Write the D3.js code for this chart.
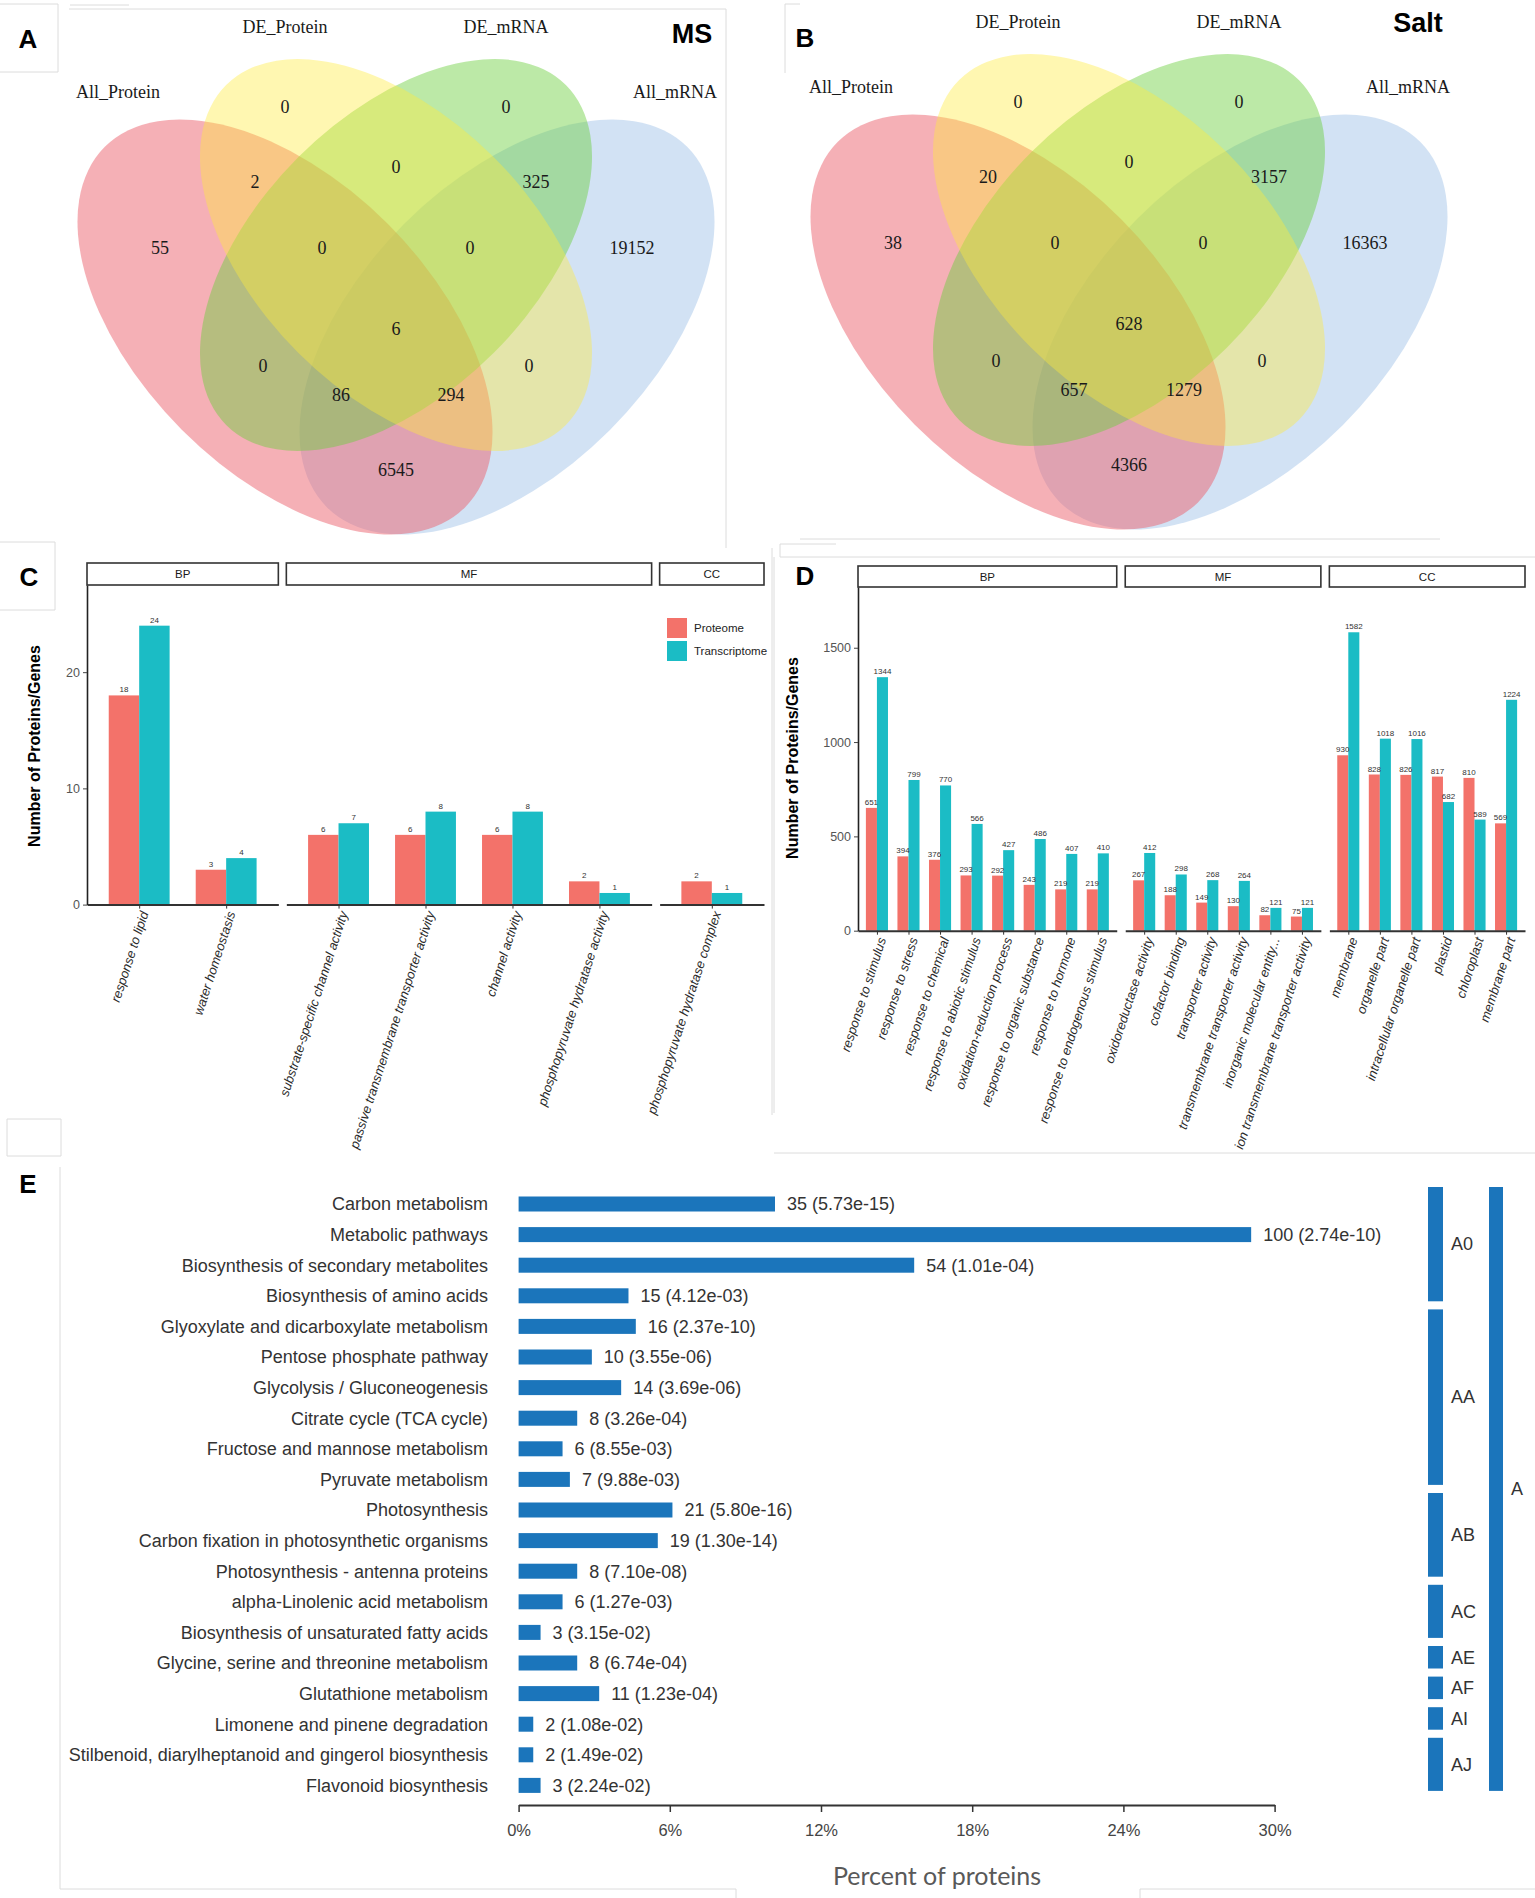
<!DOCTYPE html>
<html>
<head>
<meta charset="utf-8">
<script src="https://cdn.jsdelivr.net/npm/d3@7"></script>
<style>
  body { margin: 0; background: #fff; }
  svg { display: block; font-family: "Liberation Sans", Arial, sans-serif; }
</style>
</head>
<body>
<svg id="fig" width="1535" height="1898"></svg>
<script>
// ---------- data ----------
// Venn (A: MS, B: Salt)
const setNames = ['All_Protein', 'DE_Protein', 'DE_mRNA', 'All_mRNA'];
const regionKeys = ['Y', 'G', 'R', 'B', 'RY', 'YG', 'GB', 'RYG', 'YGB', 'RYGB', 'RG', 'YB', 'RGB', 'RYB', 'RB'];
const msCounts = [0, 0, 55, 19152, 2, 0, 325, 0, 0, 6, 0, 0, 86, 294, 6545];
const saltCounts = [0, 0, 38, 16363, 20, 0, 3157, 0, 0, 628, 0, 0, 657, 1279, 4366];

// GO bars (C: MS, D: Salt)
const ontologies = ['BP', 'MF', 'CC'];
const cTerms = ['response to lipid', 'water homeostasis', 'substrate-specific channel activity',
  'passive transmembrane transporter activity', 'channel activity',
  'phosphopyruvate hydratase activity', 'phosphopyruvate hydratase complex'];
const cOnto = ['BP', 'BP', 'MF', 'MF', 'MF', 'MF', 'CC'];
const cProteome = [18, 3, 6, 6, 6, 2, 2];
const cTranscriptome = [24, 4, 7, 8, 8, 1, 1];

const dTerms = ['response to stimulus', 'response to stress', 'response to chemical',
  'response to abiotic stimulus', 'oxidation-reduction process', 'response to organic substance',
  'response to hormone', 'response to endogenous stimulus',
  'oxidoreductase activity', 'cofactor binding', 'transporter activity',
  'transmembrane transporter activity', 'inorganic molecular entity...',
  'ion transmembrane transporter activity',
  'membrane', 'organelle part', 'intracellular organelle part', 'plastid', 'chloroplast', 'membrane part'];
const dOnto = ['BP', 'BP', 'BP', 'BP', 'BP', 'BP', 'BP', 'BP', 'MF', 'MF', 'MF', 'MF', 'MF', 'MF',
  'CC', 'CC', 'CC', 'CC', 'CC', 'CC'];
const dProteome = [651, 394, 376, 293, 292, 243, 219, 219, 267, 188, 149, 130, 82, 75, 930, 828, 826, 817, 810, 569];
const dTranscriptome = [1344, 799, 770, 566, 427, 486, 407, 410, 412, 298, 268, 264, 121, 121, 1582, 1018, 1016, 682, 589, 1224];

// KEGG (E)
const keggTerms = ['Carbon metabolism', 'Metabolic pathways', 'Biosynthesis of secondary metabolites',
  'Biosynthesis of amino acids', 'Glyoxylate and dicarboxylate metabolism', 'Pentose phosphate pathway',
  'Glycolysis / Gluconeogenesis', 'Citrate cycle (TCA cycle)', 'Fructose and mannose metabolism',
  'Pyruvate metabolism', 'Photosynthesis', 'Carbon fixation in photosynthetic organisms',
  'Photosynthesis - antenna proteins', 'alpha-Linolenic acid metabolism',
  'Biosynthesis of unsaturated fatty acids', 'Glycine, serine and threonine metabolism',
  'Glutathione metabolism', 'Limonene and pinene degradation',
  'Stilbenoid, diarylheptanoid and gingerol biosynthesis', 'Flavonoid biosynthesis'];
const keggCounts = [35, 100, 54, 15, 16, 10, 14, 8, 6, 7, 21, 19, 8, 6, 3, 8, 11, 2, 2, 3];
const keggP = ['5.73e-15', '2.74e-10', '1.01e-04', '4.12e-03', '2.37e-10', '3.55e-06', '3.69e-06',
  '3.26e-04', '8.55e-03', '9.88e-03', '5.80e-16', '1.30e-14', '7.10e-08', '1.27e-03', '3.15e-02',
  '6.74e-04', '1.23e-04', '1.08e-02', '1.49e-02', '2.24e-02'];
const keggTotal = 344;
const keggGroups = ['A0', 'AA', 'AB', 'AC', 'AE', 'AF', 'AI', 'AJ'];
const keggGroupSize = [4, 6, 3, 2, 1, 1, 1, 2];
const keggTicks = [0, 0.06, 0.12, 0.18, 0.24, 0.30];

// ---------- drawing ----------
const svg = d3.select('#fig');
const frame = '#dcdcdc';

// faint panel frames left over from the composed figure
const frameLines = [
  [0, 4, 58, 4], [58, 4, 58, 72], [0, 72, 58, 72], [70, 5, 129, 5],
  [69, 9, 726, 9], [726, 9, 726, 548],
  [785, 4, 785, 73], [785, 4, 800, 4], [800, 539, 1440, 539],
  [0, 542, 55, 542], [55, 542, 55, 610], [0, 610, 55, 610],
  [780, 544, 836, 544], [780, 544, 780, 557], [780, 557, 1535, 557],
  [772, 548, 772, 1115], [774, 557, 774, 1113], [774, 1153, 1535, 1153],
  [7, 1119, 61, 1119], [7, 1119, 7, 1156], [7, 1156, 61, 1156], [61, 1119, 61, 1156],
  [60, 1167, 60, 1889], [60, 1889, 736, 1889], [736, 1889, 736, 1898],
  [1140, 1889, 1535, 1889], [1140, 1889, 1140, 1898]
];
svg.append('g').selectAll('line').data(frameLines).join('line')
  .attr('x1', d => d[0]).attr('y1', d => d[1]).attr('x2', d => d[2]).attr('y2', d => d[3])
  .attr('stroke', frame).attr('stroke-width', 1);

// panel letters
const letters = [['A', 28, 39], ['B', 805, 38], ['C', 29, 577], ['D', 805, 576], ['E', 28, 1184]];
svg.append('g').selectAll('text').data(letters).join('text')
  .attr('x', d => d[1]).attr('y', d => d[2]).attr('dy', '0.36em')
  .attr('text-anchor', 'middle').style('font-size', '26px').style('font-weight', 'bold')
  .text(d => d[0]);

// ---- Venn ----
// VennDiagram quad layout, unit coords (y up)
const vennLayout = [
  { x: 0.35, y: 0.47, a: 0.35, b: 0.20, rot: 45, fill: '#eb616d', op: 0.5 },
  { x: 0.50, y: 0.57, a: 0.33, b: 0.19, rot: 45, fill: '#ffeb3c', op: 0.4 },
  { x: 0.50, y: 0.57, a: 0.33, b: 0.19, rot: -45, fill: '#6acf3c', op: 0.45 },
  { x: 0.65, y: 0.47, a: 0.35, b: 0.20, rot: -45, fill: '#a5c5e9', op: 0.5 }
];
const drawOrder = [3, 0, 2, 1];
// label offsets from the venn centre, px
const regionPos = {
  Y: [-111, -220], G: [110, -220], R: [-236, -79], B: [236, -79],
  RY: [-141, -145], YG: [0, -160], GB: [140, -145], RYG: [-74, -79], YGB: [74, -79],
  RYGB: [0, 2], RG: [-133, 39], YB: [133, 39], RGB: [-55, 68], RYB: [55, 68], RB: [0, 143]
};
const namePos = [[-278, -235], [-111, -300], [110, -300], [279, -235]];

function drawVenn(cx, cy, counts, title, tx, ty) {
  const g = svg.append('g');
  const vx = d3.scaleLinear().domain([0.35, 0.65]).range([cx - 111, cx + 111]);
  const vy = d3.scaleLinear().domain([0.47, 0.57]).range([cy, cy - 72]);
  const unit = 728;
  g.selectAll('ellipse').data(drawOrder.map(i => vennLayout[i])).join('ellipse')
    .attr('cx', 0).attr('cy', 0)
    .attr('rx', d => d.a * unit).attr('ry', d => d.b * unit)
    .attr('transform', d => `translate(${vx(d.x)},${vy(d.y)}) rotate(${d.rot})`)
    .attr('fill', d => d.fill).attr('fill-opacity', d => d.op);

  g.selectAll('text.cnt').data(regionKeys).join('text').attr('class', 'cnt')
    .attr('x', k => cx + regionPos[k][0]).attr('y', k => cy + regionPos[k][1])
    .attr('dy', '0.35em').attr('text-anchor', 'middle')
    .style('font-family', '"Liberation Serif", "Times New Roman", serif')
    .style('font-size', '18px').attr('fill', '#1a1a1a')
    .text((k, i) => counts[i]);

  g.selectAll('text.nm').data(setNames).join('text').attr('class', 'nm')
    .attr('x', (d, i) => cx + namePos[i][0]).attr('y', (d, i) => cy + namePos[i][1])
    .attr('dy', '0.35em').attr('text-anchor', 'middle')
    .style('font-family', '"Liberation Serif", "Times New Roman", serif')
    .style('font-size', '18px').attr('fill', '#1a1a1a')
    .text(d => d);

  g.append('text').attr('x', tx).attr('y', ty).attr('dy', '0.36em')
    .attr('text-anchor', 'middle').style('font-size', '27px').style('font-weight', 'bold')
    .text(title);
}
drawVenn(396, 327, msCounts, 'MS', 692, 33);
drawVenn(1129, 322, saltCounts, 'Salt', 1418, 22);

// ---- GO grouped bars ----
const protCol = '#f3726a';
const transCol = '#1bbcc5';

function drawGO(o) {
  const g = svg.append('g');
  const counts = ontologies.map(f => o.onto.filter(d => d === f).length);
  const u = (o.x1 - o.x0 - o.gap * 2) / d3.sum(counts, n => n + 0.2);
  const y = d3.scaleLinear().domain([0, o.yMax]).range([o.base, o.top]);

  let px = o.x0;
  ontologies.forEach((f, fi) => {
    const n = counts[fi];
    const w = (n + 0.2) * u;
    const idx = d3.range(o.terms.length).filter(i => o.onto[i] === f);
    const x = d3.scaleLinear().domain([-0.6, n - 0.4]).range([px, px + w]);
    const bw = 0.35 * u;

    g.append('rect').attr('x', px).attr('y', o.stripTop)
      .attr('width', w).attr('height', o.top - o.stripTop)
      .attr('fill', '#fff').attr('stroke', '#333').attr('stroke-width', 1.6);
    g.append('text').attr('x', px + w / 2).attr('y', (o.stripTop + o.top) / 2)
      .attr('dy', '0.36em').attr('text-anchor', 'middle')
      .style('font-size', '11.5px').attr('fill', '#1a1a1a').text(f);

    const rows = idx.map((i, j) => ({ j, term: o.terms[i], p: o.prot[i], t: o.trans[i] }));
    const bars = [];
    rows.forEach(r => {
      bars.push({ x: x(r.j) - bw, v: r.p, c: protCol });
      bars.push({ x: x(r.j), v: r.t, c: transCol });
    });
    g.append('g').selectAll('rect').data(bars).join('rect')
      .attr('x', d => d.x).attr('width', bw)
      .attr('y', d => y(d.v)).attr('height', d => y(0) - y(d.v))
      .attr('fill', d => d.c);
    g.append('g').selectAll('text').data(bars).join('text')
      .attr('x', d => d.x + bw / 2).attr('y', d => y(d.v) - 3)
      .attr('text-anchor', 'middle').style('font-size', '8px').attr('fill', '#333')
      .text(d => d.v);

    const ax = g.append('g').attr('transform', `translate(0,${o.base})`)
      .call(d3.axisBottom(x).tickValues(d3.range(n)).tickFormat('').tickSize(4).tickSizeOuter(0));
    ax.select('.domain').attr('stroke', '#333').attr('stroke-width', 2);
    ax.selectAll('.tick line').attr('stroke', '#333');

    g.append('g').selectAll('text').data(rows).join('text')
      .attr('transform', r => `translate(${x(r.j) + 2},${o.base + 6}) rotate(-72)`)
      .attr('dy', '0.6em').attr('text-anchor', 'end')
      .style('font-size', '13px').style('font-style', 'italic').attr('fill', '#2b2b2b')
      .text(r => r.term);

    px += w + o.gap;
  });

  const ay = g.append('g').attr('transform', `translate(${o.x0},0)`)
    .call(d3.axisLeft(y).tickValues(o.ticks).tickFormat(d3.format('d')).tickSize(4).tickSizeOuter(0));
  ay.select('.domain').attr('stroke', '#222').attr('stroke-width', 1.6);
  ay.selectAll('.tick line').attr('stroke', '#444');
  ay.selectAll('.tick text').style('font-size', '12.5px').attr('fill', '#555')
    .style('font-family', '"Liberation Sans", Arial, sans-serif');

  g.append('text')
    .attr('transform', `translate(${o.titleX},${o.titleY}) rotate(-90)`)
    .attr('text-anchor', 'middle').attr('dy', '0.36em')
    .style('font-size', '16px').style('font-weight', 'bold')
    .text('Number of Proteins/Genes');
  return g;
}

drawGO({
  terms: cTerms, onto: cOnto, prot: cProteome, trans: cTranscriptome,
  x0: 87, x1: 764, gap: 8, stripTop: 563, top: 585, base: 904.6, yMax: 27.5,
  ticks: [0, 10, 20], titleX: 34, titleY: 746
});

// legend for C
const legendKeys = [['Proteome', protCol], ['Transcriptome', transCol]];
const lg = svg.append('g').attr('transform', 'translate(667,618)');
lg.selectAll('rect').data(legendKeys).join('rect')
  .attr('x', 0).attr('y', (d, i) => i * 23).attr('width', 20).attr('height', 20)
  .attr('fill', d => d[1]);
lg.selectAll('text').data(legendKeys).join('text')
  .attr('x', 27).attr('y', (d, i) => i * 23 + 10).attr('dy', '0.35em')
  .style('font-size', '11.5px').attr('fill', '#222').text(d => d[0]);

drawGO({
  terms: dTerms, onto: dOnto, prot: dProteome, trans: dTranscriptome,
  x0: 858, x1: 1525, gap: 8.5, stripTop: 566, top: 587, base: 930.7, yMax: 1822,
  ticks: [0, 500, 1000, 1500], titleX: 792, titleY: 758
});

// ---- KEGG enrichment ----
const ge = svg.append('g');
const kx = d3.scaleLinear().domain([0, 0.30]).range([518.6, 1274.6]);
const ky = d3.scalePoint().domain(keggTerms).range([1204, 1785.4]);
const keggBlue = '#1b75bb';
const barH = 15;

ge.selectAll('rect.bar').data(keggTerms).join('rect').attr('class', 'bar')
  .attr('x', kx(0)).attr('y', d => ky(d) - barH / 2)
  .attr('width', (d, i) => kx(keggCounts[i] / keggTotal) - kx(0)).attr('height', barH)
  .attr('fill', keggBlue);

ge.selectAll('text.term').data(keggTerms).join('text').attr('class', 'term')
  .attr('x', 488).attr('y', d => ky(d)).attr('dy', '0.35em').attr('text-anchor', 'end')
  .style('font-size', '18px').attr('fill', '#333').text(d => d);

ge.selectAll('text.val').data(keggTerms).join('text').attr('class', 'val')
  .attr('x', (d, i) => kx(keggCounts[i] / keggTotal) + 12).attr('y', d => ky(d)).attr('dy', '0.35em')
  .style('font-size', '18px').attr('fill', '#333')
  .text((d, i) => `${keggCounts[i]} (${keggP[i]})`);

const kax = ge.append('g').attr('transform', 'translate(0,1805)')
  .call(d3.axisBottom(kx).tickValues(keggTicks).tickFormat(d3.format('.0%'))
    .tickSize(7).tickSizeOuter(0).tickPadding(12));
kax.select('.domain').attr('stroke', '#333').attr('stroke-width', 2);
kax.selectAll('.tick line').attr('stroke', '#333').attr('stroke-width', 1.5);
kax.selectAll('.tick text').style('font-size', '16.5px').attr('fill', '#444')
  .style('font-family', '"Liberation Sans", Arial, sans-serif');

ge.append('text').attr('x', 937).attr('y', 1876).attr('dy', '0.35em').attr('text-anchor', 'middle')
  .style('font-family', 'Lato, "Open Sans", sans-serif').style('font-size', '25px').attr('fill', '#595959')
  .text('Percent of proteins');

// group brackets on the right
let start = 0;
const segs = keggGroups.map((gname, i) => {
  const first = keggTerms[start];
  const last = keggTerms[start + keggGroupSize[i] - 1];
  start += keggGroupSize[i];
  return { name: gname, y0: ky(first) - 17, y1: ky(last) + 5.5 };
});
ge.selectAll('rect.seg').data(segs).join('rect').attr('class', 'seg')
  .attr('x', 1428).attr('width', 15).attr('y', d => d.y0).attr('height', d => d.y1 - d.y0)
  .attr('fill', keggBlue);
ge.selectAll('text.seg').data(segs).join('text').attr('class', 'seg')
  .attr('x', 1451).attr('y', d => (d.y0 + d.y1) / 2).attr('dy', '0.35em')
  .style('font-size', '18px').attr('fill', '#333').text(d => d.name);

const allTop = ky(keggTerms[0]) - 17;
const allBot = ky(keggTerms[keggTerms.length - 1]) + 5.5;
ge.append('rect').attr('x', 1489).attr('width', 14).attr('y', allTop).attr('height', allBot - allTop)
  .attr('fill', keggBlue);
ge.append('text').attr('x', 1511).attr('y', (allTop + allBot) / 2).attr('dy', '0.35em')
  .style('font-size', '18px').attr('fill', '#333').text('A');
</script>
</body>
</html>
